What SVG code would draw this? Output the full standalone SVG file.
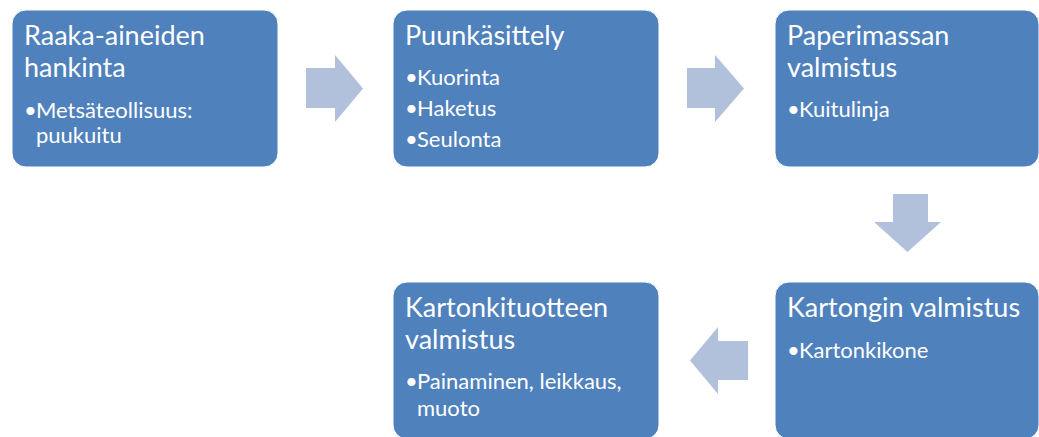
<svg xmlns="http://www.w3.org/2000/svg" width="1039" height="437" viewBox="0 0 1039 437">
<style>
.box{fill:#4F81BD;stroke:#FFFFFF;stroke-width:1}
.arr{fill:#B1C1DB}
.t{font-family:Lato,"Open Sans",sans-serif;fill:#FFFFFF;font-size:27px}
.b{font-family:Lato,"Open Sans",sans-serif;fill:#FFFFFF;font-size:22px}
</style>
<rect width="1039" height="437" fill="#FFFFFF"/>
<g id="connectors">
<polygon class="arr" points="306,68 335,68 335,55 363,88.5 335,122 335,108 306,108"/>
<polygon class="arr" points="687,68 715,68 715,55 744,88.5 715,122 715,108 687,108"/>
<polygon class="arr" points="893,194 928,194 928,222 941,222 907.5,252 874,222 893,222"/>
<polygon class="arr" points="748,341 718,341 718,327 690,360.5 718,394 718,380 748,380"/>
</g>
<g id="n1">
<rect class="box" x="12" y="10" width="266" height="157" rx="14"/>
<text class="t" x="24" y="45">Raaka-aineiden</text>
<text class="t" x="24" y="77">hankinta</text>
<text class="b" y="118"><tspan x="24">•</tspan><tspan x="36">Metsäteollisuus:</tspan></text>
<text class="b" x="36" y="143">puukuitu</text>
</g>
<g id="n2">
<rect class="box" x="393" y="10" width="266" height="157" rx="14"/>
<text class="t" x="405" y="45">Puunkäsittely</text>
<text class="b" y="85"><tspan x="405">•</tspan><tspan x="417">Kuorinta</tspan></text>
<text class="b" y="116"><tspan x="405">•</tspan><tspan x="417">Haketus</tspan></text>
<text class="b" y="147"><tspan x="405">•</tspan><tspan x="417">Seulonta</tspan></text>
</g>
<g id="n3">
<rect class="box" x="775" y="10" width="264" height="157" rx="14"/>
<text class="t" x="787" y="45">Paperimassan</text>
<text class="t" x="787" y="77">valmistus</text>
<text class="b" y="117"><tspan x="787">•</tspan><tspan x="799">Kuitulinja</tspan></text>
</g>
<g id="n4">
<rect class="box" x="775" y="282" width="264" height="157" rx="14"/>
<text class="t" x="787" y="317">Kartongin valmistus</text>
<text class="b" y="358"><tspan x="787">•</tspan><tspan x="799">Kartonkikone</tspan></text>
</g>
<g id="n5">
<rect class="box" x="393" y="282" width="266" height="157" rx="14"/>
<text class="t" x="405" y="317">Kartonkituotteen</text>
<text class="t" x="405" y="349">valmistus</text>
<text class="b" y="389"><tspan x="405">•</tspan><tspan x="417">Painaminen, leikkaus,</tspan></text>
<text class="b" x="417" y="416">muoto</text>
</g>
</svg>
